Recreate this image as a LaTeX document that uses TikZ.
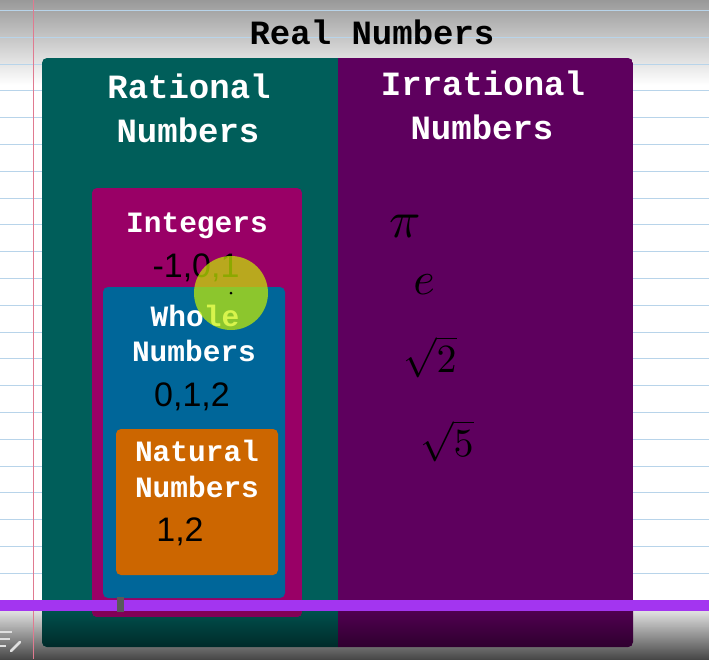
\documentclass[tikz,border=0pt]{standalone}
\usepackage{fontspec}
\setmonofont{Liberation Mono}
\newfontfamily\handfont{Liberation Sans}
\definecolor{tealbox}{HTML}{005E5A}
\definecolor{purplebox}{HTML}{5E005E}
\definecolor{magentabox}{HTML}{990066}
\definecolor{bluebox}{HTML}{006699}
\definecolor{orangebox}{HTML}{CC6600}
\definecolor{ruleline}{HTML}{B8D4EA}
\definecolor{marginline}{HTML}{E07A90}
\definecolor{progress}{HTML}{A335F0}
\definecolor{cursorhl}{RGB}{200,240,0}
\tikzset{
  label/.style={font=\ttfamily\bfseries\fontsize{34}{34}\selectfont, text=white,
    inner sep=0pt, text height=19.5pt, text depth=0pt, anchor=center},
  smalllabel/.style={label, font=\ttfamily\bfseries\fontsize{29.5}{29.5}\selectfont,
    text height=17pt},
  hand/.style={font=\handfont\fontsize{34}{34}\selectfont, text=black, inner sep=0pt},
  handmath/.style={text=black, inner sep=0pt, scale=4},
  box/.style={rounded corners=5pt},
}
\begin{document}
\begin{tikzpicture}[x=1pt,y=-1pt]
\useasboundingbox (0,0) rectangle (709,659);
% paper with top and bottom gray bands
\fill[white] (0,0) rectangle (709,659);
\shade[top color=black!40, bottom color=white] (0,0) rectangle (709,85);
\shade[top color=black!12, bottom color=black!72] (0,611) rectangle (709,659);
\foreach \i in {0,...,21} {
  \draw[ruleline, line width=1pt] (0,{10.5+26.8*\i}) -- (709,{10.5+26.8*\i});
}
\draw[gray!60, line width=0.8pt] (0,626) -- (709,626);
\draw[marginline, line width=0.8pt] (33,0) -- (33,659);
% outer box
\begin{scope}
  \clip[box] (42,58) rectangle (633,647);
  \fill[tealbox] (42,58) rectangle (338,647);
  \fill[purplebox] (338,58) rectangle (633,647);
  \shade[top color=tealbox!85!black, bottom color=tealbox!45!black] (42,611) rectangle (338,647);
  \shade[top color=purplebox!85!black, bottom color=purplebox!50!black] (338,611) rectangle (633,647);
\end{scope}
\node[label, text=black] (title) at (372,35) {Real Numbers};
\node[label] (rat1) at (189,89) {Rational};
\node[label] (rat2) at (188,133) {Numbers};
\node[label] (irr1) at (483,86) {Irrational};
\node[label] (irr2) at (482,130) {Numbers};
% integers
\begin{scope}
  \clip[box] (92,188) rectangle (302,617);
  \fill[magentabox] (92,188) rectangle (302,617);
  \fill[magentabox!85!black] (92,611) rectangle (302,617);
\end{scope}
\node[smalllabel] (int) at (197,224) {Integers};
\node[hand] (intx) at (196,268) {-1,0,1};
% whole
\fill[bluebox, box] (103,287) rectangle (285,598);
\node[smalllabel] (who1) at (195,318) {Whole};
\node[smalllabel] (who2) at (194,353) {Numbers};
\node[hand] (whox) at (192,397) {0,1,2};
% natural
\fill[orangebox, box] (116,429) rectangle (278,575);
\node[smalllabel] (nat1) at (197,453) {Natural};
\node[smalllabel] (nat2) at (197,489) {Numbers};
\node[hand] (natx) at (180,532) {1,2};
% irrationals
\node[handmath, scale=1.3] (pi) at (405,226) {$\pi$};
\node[handmath, scale=1.15] (ee) at (424,285) {$e$};
\node[handmath] (sq2) at (430,357) {$\sqrt{2}$};
\node[handmath] (sq5) at (447,441) {$\sqrt{5}$};
% cursor highlight
\fill[cursorhl, opacity=0.7] (231,293) circle (37);
\fill[black] (231,293) circle (1.5);
% progress bar
\fill[progress] (0,600) rectangle (709,611);
\fill[gray!70!black] (117,597) rectangle (124,612);
% edit icon
\draw[gray!25, line width=2pt] (0,632) -- (12,632) (0,639) -- (10,639) (0,646) -- (6,646);
\draw[gray!25, line width=2.5pt, line cap=round] (11,651) -- (20,642);
\end{tikzpicture}
\end{document}
